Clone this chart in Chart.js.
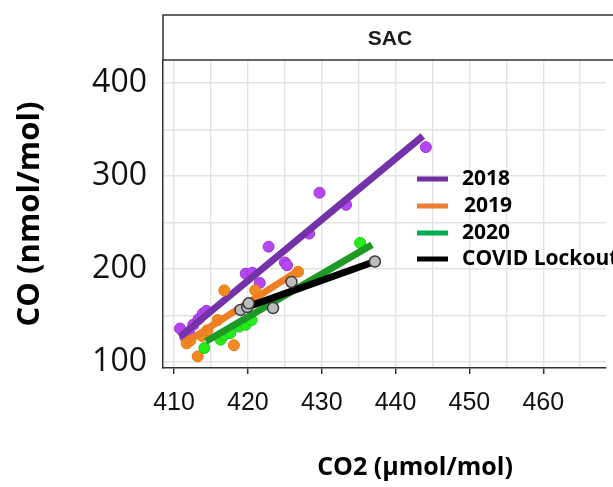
<!DOCTYPE html>
<html>
<head>
<meta charset="utf-8">
<script src="https://cdn.jsdelivr.net/npm/chart.js@4.4.0/dist/chart.umd.min.js"></script>
<style>
  html, body { margin: 0; padding: 0; background: #fff; }
  #wrap { width: 613px; height: 487px; overflow: hidden; }
</style>
</head>
<body>
<div id="wrap"><canvas id="chart" width="613" height="487"></canvas></div>
<script>
// scatter points, CO2 (x) vs CO (y)
const co2_2018 = [410.8, 411.5, 412.0, 412.6, 413.3, 413.9, 414.4, 419.7, 420.6, 421.6, 422.8, 425.0, 425.3, 428.3, 429.7, 433.3, 444.1];
const co_2018 = [136, 127, 132, 140, 146, 152, 155, 195, 196, 185, 224, 207, 204, 238, 282, 269, 331];
const co2_2019 = [411.7, 412.2, 413.2, 413.8, 414.5, 415.9, 416.8, 418.1, 421.0, 426.8];
const co_2019 = [120, 123, 106, 128, 134, 145, 177, 118, 177, 197];
const co2_2020 = [414.1, 416.3, 416.8, 417.6, 418.8, 419.7, 420.5, 435.2];
const co_2020 = [115, 124, 129, 131, 138, 140, 145, 228];
const co2_covid = [419.0, 419.9, 420.1, 423.4, 425.9, 437.2];
const co_covid = [156, 159, 163, 158, 186, 208];

// fitted lines (start, end)
const fitX_2018 = [410.8, 443.7];
const fitY_2018 = [127, 343];
const fitX_2019 = [411.4, 427.0];
const fitY_2019 = [120, 199];
const fitX_2020 = [414.3, 436.8];
const fitY_2020 = [122, 226];
const fitX_covid = [418.8, 437.2];
const fitY_covid = [156, 208];

const xTicks = [410, 415, 420, 425, 430, 435, 440, 445, 450, 455, 460, 465];
const yTicks = [100, 150, 200, 250, 300, 350, 400];

const legendLabels = ['2018', '2019', '2020', 'COVID Lockout'];
const legendColors = ['#7030A0', '#ED7D31', '#00B050', '#000000'];

const pts = (xs, ys) => xs.map((x, i) => ({ x, y: ys[i] }));

const stripPlugin = {
  id: 'strip',
  afterDraw(chart) {
    const { ctx, chartArea } = chart;
    ctx.save();
    // facet strip
    ctx.fillStyle = '#ffffff';
    ctx.fillRect(chartArea.left, 15, 640, chartArea.top - 15);
    ctx.strokeStyle = '#333333';
    ctx.lineWidth = 1.5;
    ctx.strokeRect(chartArea.left, 15, 640, chartArea.top - 15);
    ctx.fillStyle = '#1a1a1a';
    ctx.font = 'bold 21px "Liberation Sans"';
    ctx.textAlign = 'center';
    ctx.textBaseline = 'middle';
    ctx.fillText('SAC', 390, 39);

    // x axis title
    ctx.fillStyle = '#000';
    ctx.font = 'bold 25px "Open Sans"';
    ctx.fillText('CO2 (\u00b5mol/mol)', 415, 468);

    // legend
    ctx.textAlign = 'left';
    ctx.font = 'bold 21px "Open Sans"';
    const rows = [179, 206, 233, 259];
    legendLabels.forEach((lab, i) => {
      ctx.fillStyle = legendColors[i];
      ctx.fillRect(417, rows[i] - 2.5, 31, 5);
      ctx.fillStyle = '#000';
      ctx.fillText(lab, i === 1 ? 464 : 462, rows[i]);
    });
    ctx.restore();
  }
};

new Chart(document.getElementById('chart'), {
  type: 'scatter',
  data: {
    datasets: [
      { data: pts(co2_covid, co_covid), backgroundColor: '#bcbcbc', borderColor: '#3a3a3a', borderWidth: 1.5, pointRadius: 5.5 },
      { data: pts(fitX_covid, fitY_covid), showLine: true, borderColor: '#000', borderWidth: 7, pointRadius: 0 },
      { data: pts(fitX_2020, fitY_2020), showLine: true, borderColor: '#1c9a25', borderWidth: 7, pointRadius: 0 },
      { data: pts(co2_2020, co_2020), backgroundColor: '#26ec1c', borderColor: '#20c818', borderWidth: 1, pointRadius: 5.5 },
      { data: pts(fitX_2019, fitY_2019), showLine: true, borderColor: '#ee7f22', borderWidth: 7, pointRadius: 0 },
      { data: pts(co2_2019, co_2019), backgroundColor: '#f28a22', borderColor: '#e07818', borderWidth: 1, pointRadius: 5.5 },
      { data: pts(fitX_2018, fitY_2018), showLine: true, borderColor: '#7432a8', borderWidth: 7, pointRadius: 0 },
      { data: pts(co2_2018, co_2018), backgroundColor: '#b645f2', borderColor: '#9a34d4', borderWidth: 1, pointRadius: 5.5 }
    ]
  },
  options: {
    responsive: false,
    animation: false,
    devicePixelRatio: 1,
    layout: { padding: { top: 60, right: 0, left: 0, bottom: 0 } },
    plugins: { legend: { display: false }, tooltip: { enabled: false } },
    scales: {
      x: {
        type: 'linear',
        min: 408.5,
        max: 468.5,
        afterBuildTicks: (s) => { s.ticks = xTicks.map(v => ({ value: v })); },
        afterFit: (s) => { s.height = 119; },
        grid: {
          color: '#e3e3e3',
          lineWidth: 1.4,
          tickLength: 6,
          tickWidth: 1.5,
          tickColor: (c) => (c.tick && c.tick.value % 10 === 0 ? '#333333' : 'rgba(0,0,0,0)')
        },
        border: { display: true, color: '#333333', width: 1.5 },
        ticks: {
          autoSkip: false,
          maxRotation: 0,
          padding: 14,
          color: '#111',
          font: { family: 'Liberation Sans', size: 25 },
          callback: (v) => (v % 10 === 0 ? String(v) : '')
        }
      },
      y: {
        type: 'linear',
        min: 93.5,
        max: 424.7,
        afterBuildTicks: (s) => { s.ticks = yTicks.map(v => ({ value: v })); },
        afterFit: (s) => { s.width = 163; },
        grid: { color: '#e3e3e3', lineWidth: 1.4, drawTicks: false },
        border: { display: true, color: '#333333', width: 1.5 },
        title: {
          display: true,
          text: 'CO (nmol/mol)',
          color: '#000',
          font: { family: 'Open Sans', size: 31, weight: 'bold' },
          padding: { top: 12, bottom: 0 }
        },
        ticks: {
          autoSkip: false,
          padding: 16,
          color: '#111',
          font: { family: 'Open Sans', size: 32 },
          callback: (v) => (v % 100 === 0 ? String(v) : '')
        }
      }
    }
  },
  plugins: [stripPlugin]
});
</script>
</body>
</html>
